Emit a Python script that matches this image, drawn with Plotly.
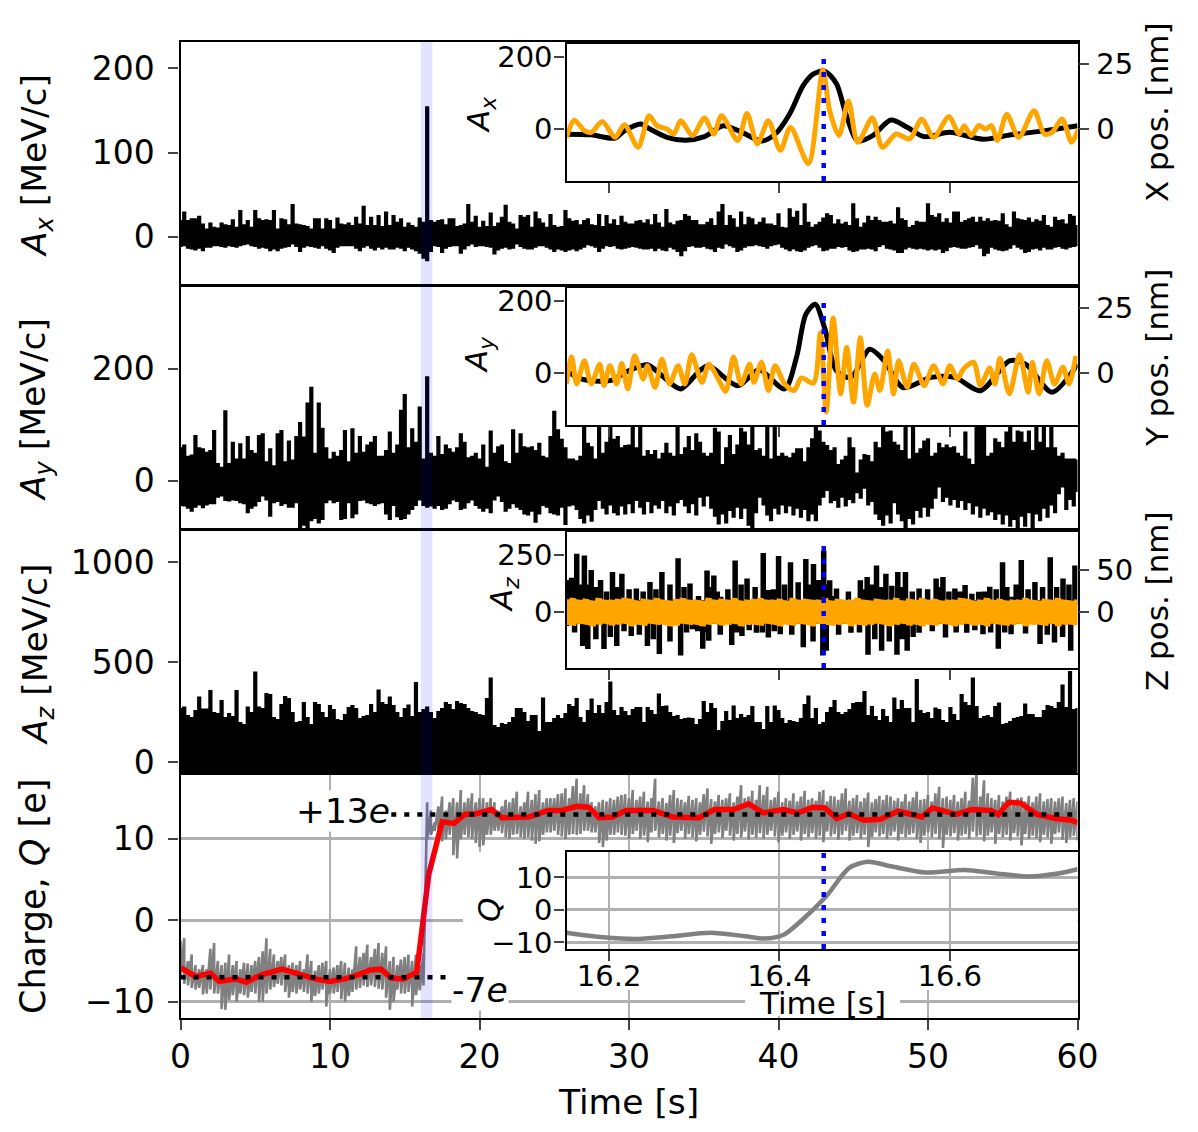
import numpy as np
import plotly.graph_objects as go

W, H = 1198, 1132

# ---------- main panels: sampled upper / lower excursions, 0.25 s apart ----------
ax_top = [
20,30,20,22,22,25,16,10,17,12,
11,17,15,14,21,12,32,15,20,12,
32,22,20,21,20,32,10,22,21,15,
39,16,15,14,13,10,22,22,10,22,
20,10,23,16,15,17,14,24,16,37,
14,24,14,26,13,30,14,26,18,22,
12,17,14,12,23,18,155,20,18,20,
21,15,22,22,13,14,16,39,18,25,
12,19,13,29,13,17,24,38,18,16,
10,26,24,26,12,30,22,17,12,27,
14,12,13,32,22,19,20,15,20,22,
15,14,27,13,26,16,21,14,25,18,
16,16,19,20,17,21,15,27,17,12,
33,17,15,19,20,27,25,20,20,15,
15,18,22,14,30,39,14,26,22,12,
30,15,24,22,15,18,23,16,16,14,
28,12,11,34,24,31,14,40,18,12,
15,18,23,28,26,16,21,16,18,14,
40,22,12,17,25,20,24,20,18,18,
19,16,35,22,20,12,14,19,18,18,
40,26,24,28,18,22,17,30,30,18,
20,22,24,18,24,19,22,19,20,19,
28,15,12,30,22,21,20,23,18,21,
19,26,14,12,24,20,21,16,27,25,14]
ax_bot = [
-12,-11,-14,-15,-16,-14,-17,-13,-13,-11,
-11,-12,-13,-11,-12,-13,-11,-10,-9,-11,
-12,-14,-13,-14,-17,-15,-17,-14,-13,-12,
-9,-12,-18,-13,-11,-12,-13,-14,-11,-14,
-16,-19,-13,-11,-11,-11,-11,-14,-17,-13,
-11,-14,-16,-13,-15,-13,-15,-15,-13,-14,
-17,-13,-15,-17,-20,-26,-29,-18,-11,-12,
-19,-14,-12,-11,-11,-20,-15,-11,-9,-12,
-11,-11,-12,-13,-21,-16,-14,-13,-15,-14,
-9,-12,-14,-15,-15,-13,-11,-11,-13,-15,
-18,-15,-16,-18,-16,-15,-17,-15,-13,-10,
-11,-13,-18,-14,-11,-12,-11,-14,-15,-14,
-13,-12,-13,-14,-15,-15,-14,-17,-14,-16,
-17,-13,-15,-18,-23,-17,-12,-11,-13,-13,
-12,-14,-15,-18,-13,-14,-9,-11,-13,-18,
-16,-13,-11,-11,-10,-11,-12,-14,-11,-10,
-9,-13,-15,-17,-15,-17,-18,-16,-13,-11,
-10,-13,-17,-16,-14,-14,-12,-13,-12,-16,
-18,-17,-15,-15,-14,-15,-17,-12,-10,-14,
-15,-16,-19,-19,-15,-13,-14,-15,-14,-15,
-16,-15,-16,-15,-19,-17,-13,-12,-13,-14,
-14,-13,-12,-10,-14,-23,-20,-13,-15,-16,
-17,-16,-14,-10,-13,-15,-19,-18,-15,-14,
-16,-13,-15,-15,-13,-12,-14,-15,-13,-12,-11]

ay_top = [
60,65,45,47,82,60,58,52,55,91,
32,25,126,32,70,40,67,40,80,55,
50,82,85,35,58,28,85,91,35,72,
38,80,105,79,140,168,50,140,95,60,
40,52,45,55,91,35,94,50,80,52,
65,70,80,45,45,55,88,50,65,127,
155,60,94,70,133,40,187,50,45,80,
48,65,58,52,60,85,70,42,45,50,
40,65,25,90,50,62,65,35,32,92,
50,85,62,60,62,55,68,45,42,80,
125,92,75,60,40,40,37,45,100,68,
62,40,97,50,70,97,75,80,60,64,
65,97,60,97,45,55,48,55,40,50,
68,50,45,97,48,60,80,55,85,70,
50,45,50,95,88,30,60,82,48,65,
95,88,65,97,55,58,45,97,40,97,
45,50,45,42,50,58,58,35,60,76,
97,90,70,64,55,60,30,38,45,78,
60,15,38,48,46,35,70,60,100,88,
90,70,65,55,100,40,97,50,58,72,
76,45,50,68,60,65,60,62,50,45,
88,40,30,97,97,97,45,50,76,70,
60,88,97,70,90,88,70,90,55,97,
70,97,60,97,60,45,50,40,40,40,38]
ay_bot = [
-45,-46,-50,-55,-48,-44,-49,-44,-42,-42,
-30,-28,-36,-37,-35,-36,-40,-42,-58,-50,
-46,-38,-28,-35,-64,-40,-38,-45,-42,-48,
-48,-40,-85,-80,-85,-72,-68,-76,-70,-40,
-35,-40,-38,-70,-68,-40,-67,-60,-36,-35,
-40,-42,-45,-42,-40,-60,-70,-45,-65,-70,
-68,-60,-52,-45,-35,-45,-48,-46,-50,-45,
-52,-50,-42,-35,-38,-52,-50,-40,-35,-45,
-50,-55,-50,-58,-35,-28,-38,-55,-50,-42,
-48,-52,-60,-62,-55,-75,-60,-45,-48,-58,
-60,-62,-48,-79,-46,-44,-52,-68,-76,-62,
-73,-52,-36,-50,-60,-44,-58,-62,-46,-60,
-42,-58,-36,-48,-60,-38,-58,-44,-50,-36,
-58,-46,-62,-40,-34,-46,-58,-42,-62,-30,
-46,-28,-50,-64,-78,-60,-76,-54,-66,-48,
-68,-50,-80,-85,-58,-30,-44,-62,-72,-50,
-60,-44,-58,-46,-62,-50,-66,-52,-72,-60,
-72,-44,-30,-18,-40,-36,-48,-30,-46,-34,
-40,-22,-32,-14,-44,-38,-60,-70,-80,-62,
-76,-40,-60,-72,-85,-68,-78,-54,-66,-48,
-64,-50,-32,-12,-38,-30,-44,-34,-48,-36,
-52,-40,-60,-46,-66,-50,-62,-56,-70,-60,
-78,-62,-82,-70,-84,-64,-82,-58,-85,-60,
-72,-50,-66,-44,-58,-24,-12,-52,-34,-46,-20]

az_top = [
270,277,235,225,260,327,268,268,360,250,
245,310,225,245,230,360,200,190,277,250,
452,277,270,345,340,225,215,290,330,320,
250,200,205,300,225,190,300,290,250,225,
285,265,215,210,240,275,285,270,220,230,
235,290,250,363,300,290,327,285,250,225,
270,288,230,400,250,265,277,250,220,255,
270,300,290,265,305,295,290,270,255,250,
240,235,320,422,185,175,195,190,200,225,
270,270,250,205,235,235,155,322,200,200,
220,235,220,245,290,280,320,225,200,260,
317,245,285,245,300,402,260,235,275,255,
235,265,275,275,200,275,260,240,343,280,
282,250,230,235,215,220,222,220,190,215,
305,250,295,270,160,205,255,210,282,220,
240,225,235,280,200,200,165,280,200,282,
260,220,195,210,205,200,220,290,332,220,
270,190,200,250,275,310,250,240,250,265,
295,300,300,355,235,280,230,210,265,230,
200,323,265,310,270,270,200,415,260,245,
250,220,272,265,210,200,275,240,210,340,
300,285,422,280,220,230,235,225,280,297,
190,195,205,220,225,230,293,240,240,225,
225,260,285,280,270,300,388,275,455,265,270]
az_floor = -60

# ---------- charge panel ----------
q_top = [
-2.5,-2.2,-5,-4.2,-5.5,-6,-5.5,-6,-3.5,-2.8,
-5,-5.5,-5.2,-4.2,-5.5,-5,-6,-5.2,-5.3,-5.5,
-5,-4.5,-3.8,-2.2,-3.5,-4.2,-5,-4.5,-4.2,-5.5,
-5.2,-5.5,-5,-6,-4.2,-5,-6.2,-5.5,-5.2,-5,
-6,-5.8,-5.5,-5,-5.2,-5.8,-6,-3.2,-4.5,-4,
-3,-4.5,-3.5,-2.8,-4,-3.2,-5,-4.5,-5.5,-4.8,
-4.5,-4.2,-5,-4.2,-5.5,-4,14.5,13.5,12,14,
15.2,13.5,14.5,15,14.5,16,14.5,15,15.6,14.5,
15,15,14.5,15,14.5,13.5,14,14.8,14.5,15,
15.8,14,14.5,15.8,14.8,15.5,16,14.5,15,15,
15,15.5,15.6,16.2,15,16.5,17.4,15.6,16.6,15.5,
14.5,14,14.5,14.8,14.6,15,14.8,15.2,15.4,15.5,
15,16,14.8,15.2,15.8,14.6,15,17.4,14.6,15,
14.4,15.4,16,15,14.8,14.5,15.3,14.8,15,14.5,
15.5,16.2,14.9,14.6,15.4,14.8,15,15.6,14.5,15.2,
16.6,15,15.2,15.9,14.8,16.6,15.4,16.4,14.8,15.1,
15.8,14.5,15,14.7,15.6,14.6,15.2,15.9,14.8,15,
14.7,15.8,16,14.6,15.3,15.2,14.8,15.6,16.2,14.7,
15,15.4,14.6,15,15.7,14.5,14.9,15.3,14.8,15.4,
15.2,14.7,15,14.6,15.5,14.6,15.1,15.8,14.8,14.9,
15.4,14.6,15.6,16.4,15,15.2,14.8,15.4,14.6,15,
15.8,14.7,17.5,18.5,15.2,17.2,15.6,15,14.8,15.4,
14.6,15.2,15.8,14.8,15,15.1,14.6,15.3,14.5,15.2,
15.6,14.6,14.9,15,14.6,15,15.2,14.4,14.8,15,14.6]
q_bot = [
-7,-7.8,-8,-8.3,-8.5,-8.3,-9.1,-9,-8.5,-9,
-9,-10.9,-11,-9.8,-9.2,-10,-9,-9.2,-9.5,-8.8,
-9,-10,-10,-9,-8.5,-8.2,-7.8,-8,-8.8,-9.5,
-8.8,-9,-8.5,-8.8,-9,-10,-9.3,-9,-8.5,-10.6,
-9,-9,-8.8,-9.7,-10,-9.3,-8.8,-8.5,-8.3,-8,
-8.2,-8,-8.2,-8.4,-8.5,-9.5,-11,-10,-8.5,-9,
-9,-8.8,-10.6,-9.2,-8.6,-8,10,10.5,11,10,
9.7,10,10.5,8,7.6,10,10.5,10.2,10,9.5,
9,9.2,10.5,10.5,11,11,10.7,10.2,10,10.5,
10.6,10.2,10,10.2,9.8,9.4,9.7,10.5,10.8,10.8,
11,10.5,10.3,10,10.5,10.6,10.5,10.6,11,11,
10.8,10.8,9.5,9,9.8,10.5,10.5,10.8,10.5,10.4,
10,10.6,11,10,10.4,9.6,10.8,11,10.2,10.6,
9.8,10.4,9.5,10.7,11,10,10.6,10.2,9.7,10.5,
10.9,10.3,9.4,10.6,10.8,10.1,11,10.4,9.8,10.6,
10.2,10.9,9.9,10.5,10.1,10.7,10,10.5,11,10.3,
9.6,10.4,10.8,10,10.5,10.9,9.8,10.6,10.2,10.7,
10,10.4,9.6,10.9,10.3,10.6,9.9,10.5,11,9.8,
10.4,10.7,10,10.5,9,10.2,10.8,10.3,10.6,10,
10.4,10.9,9.8,10.6,10.2,10.5,10.7,10,9.5,10.4,
10.8,10.2,10.6,10,8.9,10.5,10.3,10.7,9.8,10.4,
10.6,10,10.9,10.3,10.5,9.7,10.4,10.8,9.4,10.6,
10.2,10.5,9.8,10.7,10.3,9.2,10.6,10,10.4,10.1,
9.6,10.5,10.2,9.4,10.6,10.8,9.9,9.5,10.2,10.4,9.8]
q_smooth_t = [0,1,2,2.6,3.7,4.4,5.4,6.8,8.1,9,10,11,12,12.7,13.4,14.1,14.9,15.8,16.6,17.5,18.3,19,19.8,20.8,21.5,22.4,23.3,24.6,25.5,26.5,27.3,28,28.9,29.8,31.6,32.9,34.7,35.7,37,38,39,40.3,41.3,42.3,43.1,43.9,44.7,45.7,46.8,48,49.6,50.3,51.9,52.9,54.2,54.7,55.4,56.2,57.3,58.5,59.6,60]
q_smooth = [-5.8,-6.9,-6.5,-7.5,-7.2,-7.6,-6.7,-6,-6.7,-7.2,-7.5,-7.2,-6.6,-6.1,-6,-7.1,-7.2,-6.4,5.6,12.1,11.9,13,13.1,13.6,12.6,12.7,12.7,13.5,13.5,14,13.9,12.6,12.7,13.5,13.5,12.7,12.6,13.6,13.6,14.3,13.2,13.6,13.2,13.9,13.8,12.5,13.1,12.3,12.4,13.4,12.7,13.8,13,13.6,13.5,13,14.5,14.4,13,12.5,12.3,12]
q_level_low = -7
q_level_high = 13
low_span = [0, 18.2]
high_span = [14.1, 60]

# ---------- insets ----------
ix_black_t = [16.150,16.179,16.207,16.218,16.237,16.248,16.268,16.290,16.312,16.334,16.356,16.379,16.395,16.412,16.428,16.440,16.453,16.467,16.478,16.492,16.509,16.531,16.550,16.570,16.600,16.639,16.672,16.711,16.750]
ix_black = [-14,-16,-25,-5,14,0,-23,-31,-21,9,-9,-33,-14,42,121,153,161,126,42,-33,-19,25,5,-21,-9,-28,-16,-5,9]
ix_pos_t = [16.150,16.159,16.171,16.179,16.192,16.207,16.218,16.234,16.247,16.256,16.268,16.276,16.284,16.298,16.312,16.323,16.332,16.351,16.362,16.374,16.387,16.401,16.413,16.434,16.451,16.459,16.470,16.481,16.492,16.509,16.521,16.537,16.553,16.567,16.581,16.599,16.611,16.617,16.625,16.634,16.642,16.649,16.656,16.667,16.681,16.699,16.711,16.720,16.732,16.743,16.751]
ix_pos = [-3.2,3.4,-0.6,-1.3,2.9,-3.2,1.6,-7,5.1,1.3,0,-1.9,3.2,-2.5,4.2,-1.9,5.1,-4.4,6,-5.7,3.2,-8.2,0.6,-13.3,22.8,7,-2.5,10.8,-5.1,4.2,-7,-1.9,-3.8,3.8,-3.2,4.7,-1.9,1.3,-2.5,1.3,0,1.3,-4.4,5.7,-3.2,7,-1.9,-1.3,3.8,-5.1,0]

iy_black_t = [16.150,16.168,16.201,16.223,16.245,16.262,16.284,16.306,16.317,16.351,16.376,16.406,16.420,16.431,16.442,16.453,16.467,16.484,16.506,16.523,16.545,16.578,16.606,16.636,16.670,16.689,16.720,16.750]
iy_black = [6,-17,-21,6,23,-7,-44,6,20,-35,9,-44,43,163,191,126,6,-12,66,34,-40,-12,-12,-49,34,25,-53,25]
iy_pos_t = [16.150,16.156,16.162,16.171,16.179,16.189,16.194,16.201,16.209,16.215,16.222,16.230,16.240,16.245,16.254,16.262,16.271,16.281,16.289,16.297,16.309,16.317,16.327,16.337,16.346,16.355,16.365,16.370,16.379,16.387,16.395,16.406,16.417,16.426,16.440,16.448,16.455,16.463,16.472,16.479,16.487,16.495,16.503,16.512,16.518,16.527,16.534,16.540,16.550,16.558,16.570,16.581,16.592,16.600,16.609,16.616,16.628,16.636,16.647,16.653,16.659,16.670,16.682,16.692,16.697,16.705,16.714,16.723,16.733,16.740,16.748]
iy_pos = [-4.2,6.2,-4.2,4.7,-4.2,3.4,-4.8,2.8,-4.2,3.7,-6.1,6.6,-2.3,2.8,-5.5,5.3,-4.2,2.8,-4.2,7,-3.6,3.4,-1.6,-7,6.2,-4.2,3.4,-3.6,4.1,-6.7,2.8,-4.2,-6.7,-1.9,-3.9,15.5,-15,21.2,-8,9.8,-11.2,13.6,-12.4,-0.4,-6.7,8.5,-8,4.7,-5.5,3.4,-4.8,2.8,-4.2,2.8,-2.3,1.5,4.1,-4.8,1.9,-4.2,5.7,-8,7,-7.4,4.1,-8,4.7,-4.2,2.2,-4.2,6.6]

iz_top_t = [16.150,16.162,16.171,16.179,16.190,16.204,16.215,16.232,16.248,16.262,16.281,16.295,16.315,16.323,16.331,16.348,16.362,16.381,16.387,16.399,16.413,16.431,16.440,16.452,16.459,16.467,16.495,16.503,16.514,16.525,16.539,16.548,16.564,16.584,16.592,16.606,16.618,16.634,16.647,16.662,16.672,16.684,16.700,16.718,16.733,16.747]
iz_top = [140,255,248,184,140,175,168,103,132,175,236,125,182,160,67,226,147,259,96,246,218,233,211,269,139,103,139,154,204,168,175,175,103,147,154,103,118,89,111,218,67,228,132,240,147,204]
iz_top_mid = [150,120,120,110,90,110,100,90,100,120,110,70,110,90,100,120,110,90,100,120,130,120,140,120,70,90,100,120,110,115,110,90,100,110,90,90,80,90,100,110,120,100,110,110,120]
iz_bot_t = [16.150,16.169,16.175,16.194,16.209,16.226,16.245,16.259,16.284,16.298,16.310,16.317,16.344,16.356,16.373,16.387,16.401,16.428,16.451,16.455,16.484,16.504,16.520,16.538,16.550,16.564,16.595,16.620,16.639,16.657,16.672,16.706,16.723,16.742]
iz_bot = [-62,-149,-163,-163,-149,-106,-149,-184,-191,-76,-162,-126,-145,-106,-91,-112,-98,-155,-191,-170,-91,-188,-170,-188,-170,-91,-112,-91,-98,-162,-98,-141,-134,-170]
iz_bot_mid = [-90,-110,-120,-110,-85,-100,-120,-130,-90,-85,-90,-100,-90,-80,-90,-85,-100,-130,-150,-100,-90,-120,-130,-120,-110,-85,-90,-80,-90,-90,-95,-100,-110]
iz_valley_top = 40
iz_valley_bot = -40
iz_pos_top = [
15,16,14,15,13,16,14,14,15,16,15,13,15,14,16,14,13,15,16,14,
14,13,16,14,15,14,16,13,14,15,16,14,14,15,13,16,14,15,14,14,
16,13,15,14,14,16,14,13,15,14,14,16,13,15,14,16,14,15,13,14,
14,16,15,13,14,16,14,15,13,14,14,16,14,13,15,14,16,14,13,14]
iz_pos_bot = [
-15,-16,-14,-15,-17,-15,-14,-16,-15,-14,-17,-15,-16,-14,-15,-15,-17,-16,-14,-15,
-15,-17,-15,-14,-16,-15,-14,-17,-15,-15,-16,-14,-15,-17,-15,-16,-14,-15,-17,-14,
-15,-16,-15,-14,-17,-15,-16,-15,-14,-15,-17,-15,-14,-16,-15,-17,-15,-16,-14,-15,
-17,-15,-14,-16,-15,-17,-14,-15,-16,-15,-14,-17,-15,-15,-16,-14,-17,-15,-15,-16]

iq_t = [16.150,16.193,16.234,16.274,16.319,16.360,16.382,16.405,16.427,16.455,16.482,16.504,16.531,16.572,16.617,16.653,16.693,16.725,16.750]
iq = [-7,-8.4,-8.9,-8.1,-7,-8.1,-8.8,-7.6,-3,4.2,12.9,14.8,13.4,11.5,12.3,11.3,10.3,11.1,12.5]

event_time = 16.452
event_band = [16.07, 16.85]

main_ticks_x = [0, 10, 20, 30, 40, 50, 60]
inset_ticks_x = [16.2, 16.4, 16.6]


def zigzag(tops, bots, t0=0.0, t1=60.0):
    tt = np.linspace(t0, t1, len(tops))
    tb = np.linspace(t0, t1, len(bots))
    ts = np.concatenate([tt, tb])
    ys = np.concatenate([tops, bots])
    idx = np.argsort(ts, kind="stable")
    return ts[idx], ys[idx]


def bars(tops, bots, mid, t0=0.0, t1=60.0):
    """Every sample is a vertical stroke between its two excursions, linked through mid."""
    tt = np.linspace(t0, t1, len(tops))
    xs, ys = [], []
    for ti, a, b in zip(tt, tops, bots):
        xs += [ti, ti, ti, ti]
        ys += [mid, a, b, mid]
    return xs, ys


def peaks(t, v, mids, valley):
    """Peaks and the lower shoulders between them, each rising from the valley level."""
    ts = list(t) + [(a + b) / 2 for a, b in zip(t[:-1], t[1:])]
    vs = list(v) + list(mids)
    order = np.argsort(ts, kind="stable")
    xs, ys = [], []
    for k in order:
        xs += [ts[k], ts[k], ts[k]]
        ys += [valley, vs[k], valley]
    return xs, ys


def dx(a, b):
    return [a / W, b / W]


def dy(top, bottom):
    return [1 - bottom / H, 1 - top / H]


FONT = "DejaVu Sans"
BLACK = "#000000"
ORANGE = "#ffa500"
GRAY = "#808080"
GRID = "#b0b0b0"
BLUE = "#0000ff"
SPINE = 2.3

fig = go.Figure()


def line(x, y, xa, ya, color=BLACK, width=4.2, dash=None, shape="linear"):
    fig.add_trace(go.Scatter(x=x, y=y, xaxis=xa, yaxis=ya, mode="lines", showlegend=False,
                             hoverinfo="skip",
                             line=dict(color=color, width=width, dash=dash, shape=shape,
                                       smoothing=0.8 if shape == "spline" else None)))


# main panels
t, v = bars(ax_top, ax_bot, 0)
line(t, v, "x", "y")
t, v = bars(ay_top, ay_bot, 0)
line(t, v, "x2", "y2")
t, v = bars(az_top, [az_floor] * len(az_top), 0)
line(t, v, "x3", "y3")
t, v = zigzag(q_top, q_bot)
line(t, v, "x4", "y4", color=GRAY, width=2.6)
line(q_smooth_t, q_smooth, "x4", "y4", color="#ff0000", width=5.5)
DOT = "5px,8px"
line(low_span, [q_level_low] * 2, "x4", "y4", width=4.5, dash=DOT)
line(high_span, [q_level_high] * 2, "x4", "y4", width=4.5, dash=DOT)

# white masks behind the inset's labels
line([], [], "x5", "y5")
line([], [], "x6", "y6")
line([], [], "x11", "y14")

# inset traces
line(ix_black_t, ix_black, "x7", "y7", width=5, shape="spline")
line(ix_pos_t, ix_pos, "x7", "y8", color=ORANGE, width=5, shape="spline")
line([event_time] * 2, [-20, 29.5], "x7", "y8", color=BLUE, width=4.5, dash=DOT)
line(iy_black_t, iy_black, "x8", "y9", width=5, shape="spline")
line(iy_pos_t, iy_pos, "x8", "y10", color=ORANGE, width=5, shape="spline")
line([event_time] * 2, [-20, 29.5], "x8", "y10", color=BLUE, width=4.5, dash=DOT)
t, v = peaks(iz_top_t, iz_top, iz_top_mid, iz_valley_top)
line(t, v, "x9", "y11", width=5.5)
t, v = peaks(iz_bot_t, iz_bot, iz_bot_mid, iz_valley_bot)
line(t, v, "x9", "y11", width=5.5)
t, v = zigzag(iz_pos_top, iz_pos_bot, 16.15, 16.75)
line(t, v, "x9", "y12", color=ORANGE, width=6.5)
line([event_time] * 2, [-67, 85], "x9", "y12", color=BLUE, width=4.5, dash=DOT)
line(iq_t, iq, "x10", "y13", color=GRAY, width=4.5, shape="spline")
line([event_time] * 2, [-12, 17.8], "x10", "y13", color=BLUE, width=4.5, dash=DOT)

layout = dict(template=None, width=W, height=H, autosize=False, margin=dict(l=0, r=0, t=0, b=0),
              paper_bgcolor="white", plot_bgcolor="white",
              font=dict(family=FONT, color="black", size=33), showlegend=False)

ax_common = dict(showline=True, mirror=True, linecolor="black", linewidth=SPINE, zeroline=False,
                 showgrid=False, automargin=False)
panels = [(42, 285, [-57, 231], [0, 100, 200]),
          (286, 529, [-86, 348], [0, 200]),
          (530, 773, [-55, 1160], [0, 500, 1000]),
          (775, 1018, [-12, 17.85], [-10, 0, 10])]
for i, (top, bot, yr, yt) in enumerate(panels, start=1):
    s = "" if i == 1 else str(i)
    is_q = i == 4
    layout["xaxis" + s] = dict(ax_common, domain=dx(180.5, 1077.5), range=[0, 60], anchor="y" + s,
                               tickmode="array", tickvals=main_ticks_x,
                               ticks="outside" if is_q else "", ticklen=10, tickwidth=2,
                               showticklabels=is_q, tickfont=dict(size=33),
                               ticklabelstandoff=-2,
                               showgrid=is_q, gridcolor=GRID, gridwidth=2.4)
    layout["yaxis" + s] = dict(ax_common, domain=dy(top, bot), range=yr, anchor="x" + s,
                               tickmode="array", tickvals=yt, ticks="outside", ticklen=10,
                               tickwidth=2, tickfont=dict(size=33), ticklabelstandoff=7,
                               showgrid=is_q, gridcolor=GRID, gridwidth=2.6)

# white masks
for xn, yn, xd, yd in [("xaxis5", "yaxis5", dx(463, 566), dy(852, 985)),
                       ("xaxis6", "yaxis6", dx(566, 1077), dy(950, 990)),
                       ("xaxis11", "yaxis14", dx(745, 900), dy(992, 1016))]:
    layout[xn] = dict(domain=xd, visible=False, range=[0, 1], anchor=yn.replace("axis", ""), automargin=False)
    layout[yn] = dict(domain=yd, visible=False, range=[0, 1], anchor=xn.replace("axis", ""), automargin=False)

# insets
insets = [("7", "7", "8", 44, 181, [-144, 236], [0, 200], [-20, 32.7], [0, 25]),
          ("8", "9", "10", 288, 425, [-144, 236], [0, 200], [-20, 32.7], [0, 25]),
          ("9", "11", "12", 532, 668, [-246, 351], [0, 250], [-67, 95], [0, 50])]
IX = dx(566.5, 1077.5)
for xn, yl, yr, top, bot, rl, tl, rr, tr in insets:
    layout["xaxis" + xn] = dict(ax_common, domain=IX, range=[16.15, 16.75], anchor="y" + yl,
                                tickmode="array", tickvals=inset_ticks_x, ticks="outside", ticklen=10,
                                tickwidth=2, showticklabels=False)
    layout["yaxis" + yl] = dict(ax_common, domain=dy(top, bot), range=rl, anchor="x" + xn,
                                tickmode="array", tickvals=tl, ticks="outside", ticklen=10,
                                tickwidth=2, tickfont=dict(size=29), ticklabelstandoff=-4)
    layout["yaxis" + yr] = dict(range=rr, overlaying="y" + yl, side="right", anchor="x" + xn,
                                showgrid=False, zeroline=False, showline=False, tickmode="array",
                                tickvals=tr, ticks="outside", ticklen=10, tickwidth=2,
                                tickfont=dict(size=29), ticklabelstandoff=2, automargin=False)
layout["xaxis10"] = dict(ax_common, domain=IX, range=[16.15, 16.75], anchor="y13",
                         tickmode="array", tickvals=inset_ticks_x, ticks="outside", ticklen=10,
                         tickwidth=2, tickfont=dict(size=29), ticklabelstandoff=-10,
                         showgrid=True, gridcolor=GRID, gridwidth=2.2)
layout["yaxis13"] = dict(ax_common, domain=dy(852, 949), range=[-12, 17.8], anchor="x10",
                         tickmode="array", tickvals=[-10, 0, 10], ticks="outside", ticklen=10,
                         tickwidth=2, tickfont=dict(size=29), ticklabelstandoff=-4,
                         showgrid=True, gridcolor=GRID, gridwidth=2.6)


def label(text, px, py, size, angle=0, bg=None):
    return dict(text=text, x=px / W, y=1 - py / H, xref="paper", yref="paper", showarrow=False,
                xanchor="center", yanchor="middle", textangle=angle,
                font=dict(size=size, family=FONT, color="black"),
                bgcolor=bg, borderpad=0)


layout["annotations"] = [
    label("<i>A<sub>x</sub></i> [MeV/c]", 37, 166, 34.5, -90),
    label("<i>A<sub>y</sub></i> [MeV/c]", 35, 410, 34.5, -90),
    label("<i>A<sub>z</sub></i> [MeV/c]", 37, 655, 34.5, -90),
    label("Charge, <i>Q</i> [e]", 33, 897, 35, -90),
    label("Time [s]", 628, 1102, 34.5),
    label("<i>A<sub>x</sub></i>", 480, 115, 31, -90),
    label("<i>A<sub>y</sub></i>", 478, 355, 31, -90),
    label("<i>A<sub>z</sub></i>", 503, 595, 31, -90),
    label("<i>Q</i>", 489, 910, 31, -90),
    label("X pos. [nm]", 1157, 112, 31, -90),
    label("Y pos. [nm]", 1157, 358, 31, -90),
    label("Z pos. [nm]", 1157, 601, 31, -90),
    label("Time [s]", 822, 1003, 31),
    label("+13<i>e</i>", 343, 811, 34.5, bg="white"),
    label("-7<i>e</i>", 480, 990, 34.5, bg="white"),
]

layout["shapes"] = [
    dict(type="rect", xref="x", yref="paper", x0=event_band[0], x1=event_band[1],
         y0=dy(42, 1018)[0], y1=dy(42, 1018)[1], fillcolor="rgba(0,0,255,0.11)",
         line=dict(width=0), layer="above")
]

fig.update_layout(**layout)
fig.write_html("out.html", post_script="document.body.style.margin='0';",
               config={"displayModeBar": False})
